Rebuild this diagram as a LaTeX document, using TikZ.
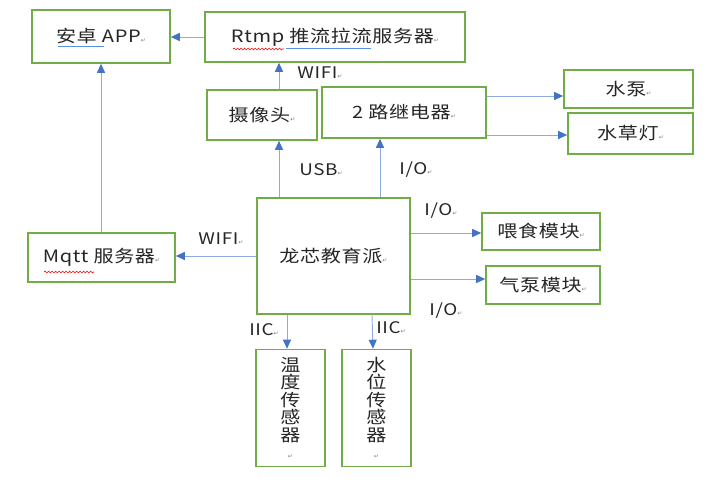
\documentclass[tikz,border=0pt]{standalone}
\usepackage{fontspec}
\setmainfont{Noto Sans CJK SC}[FakeStretch=1.18,LetterSpace=4]
\newfontfamily\dejavu{DejaVu Sans}
\usetikzlibrary{arrows.meta,decorations.pathmorphing}
\definecolor{boxgreen}{HTML}{70AD47}
\definecolor{linkblue}{HTML}{8FAADC}
\definecolor{tipblue}{HTML}{4472C4}
\definecolor{txt}{HTML}{262626}
\definecolor{ulblue}{HTML}{5B8FE0}
\newcommand\pmk{{\dejavu\fontsize{6}{6}\selectfont\textcolor{gray}{↵}}}
\begin{document}
\begin{tikzpicture}[x=1pt,y=-1pt,
 box/.style={draw=boxgreen,line width=1.6pt,inner sep=0pt,font=\fontsize{17}{18}\selectfont,text=txt},
 vbox/.style={box,align=center,font=\fontsize{17}{17.5}\selectfont},
 conn/.style={draw=linkblue,line width=0.9pt,-{Triangle[length=9pt,width=8pt,color=tipblue]}},
 lbl/.style={font=\fontsize{16}{18}\selectfont,text=txt,inner sep=0pt},
 blueul/.style={draw=ulblue,line width=1.1pt},
 redul/.style={draw=red,line width=0.6pt,decorate,decoration={snake,amplitude=0.9pt,segment length=3.5pt}}]
\useasboundingbox[fill=white] (0,0) rectangle (724,484);
\node[box,minimum width=138pt,minimum height=53pt] (app) at (101,36.5) {安卓 APP\pmk};
\node[box,minimum width=260pt,minimum height=50pt] (rtmp) at (335,37) {Rtmp 推流拉流服务器\pmk};
\node[box,minimum width=110pt,minimum height=50pt] (cam) at (262,115) {摄像头\pmk};
\node[box,minimum width=164pt,minimum height=51pt] (relay) at (404,112.5) {2 路继电器\pmk};
\node[box,minimum width=129pt,minimum height=38pt] (pump) at (628.5,89) {水泵\pmk};
\node[box,minimum width=125pt,minimum height=41pt] (lamp) at (630.5,133.5) {水草灯\pmk};
\node[box,minimum width=153pt,minimum height=116pt] (main) at (333.5,256) {龙芯教育派\pmk};
\node[box,minimum width=147pt,minimum height=49pt] (mqtt) at (101.5,257.5) {Mqtt 服务器\pmk};
\node[box,minimum width=118pt,minimum height=37pt] (feed) at (541,231.5) {喂食模块\pmk};
\node[box,minimum width=114pt,minimum height=38pt] (air) at (543,285) {气泵模块\pmk};
\node[vbox,minimum width=69pt,minimum height=117pt] (temp) at (290.5,408) {温\\度\\传\\感\\器\\\pmk};
\node[vbox,minimum width=69pt,minimum height=117pt] (water) at (376.5,408) {水\\位\\传\\感\\器\\\pmk};
% proofing underlines
\draw[blueul] (58,46.5) -- (104,46.5);
\draw[blueul] (286,48.5) -- (371,48.5);
\draw[redul] (233,49) -- (284,49);
\draw[redul] (44,272) -- (94,272);
% connectors
\draw[conn] (rtmp.west) -- (rtmp.west -| app.east);
\draw[conn] (279,0 |- cam.north) -- (279,0 |- rtmp.south);
\draw[conn] (279,0 |- main.north) -- (279,0 |- cam.south);
\draw[conn] (380,0 |- main.north) -- (380,0 |- relay.south);
\draw[conn] (relay.east |- 0,96) -- (pump.west |- 0,96);
\draw[conn] (relay.east |- 0,135) -- (lamp.west |- 0,135);
\draw[conn] (main.west) -- (main.west -| mqtt.east);
\draw[conn] (101,0 |- mqtt.north) -- (101,0 |- app.south);
\draw[conn] (main.east |- 0,233) -- (feed.west |- 0,233);
\draw[conn] (main.east |- 0,279) -- (air.west |- 0,279);
\draw[conn] (287,0 |- main.south) -- (287,0 |- temp.north);
\draw[conn] (372,0 |- main.south) -- (373,0 |- water.north);
% labels
\node[lbl] (l1) at (320,73) {WIFI\pmk};
\node[lbl] (l2) at (321,170) {USB\pmk};
\node[lbl] (l3) at (416,170) {I/O\pmk};
\node[lbl] (l4) at (221,239) {WIFI\pmk};
\node[lbl] (l5) at (441,211) {I/O\pmk};
\node[lbl] (l6) at (446,311) {I/O\pmk};
\node[lbl] (l7) at (264,330) {IIC\pmk};
\node[lbl] (l8) at (391,328) {IIC\pmk};
\end{tikzpicture}
\end{document}
